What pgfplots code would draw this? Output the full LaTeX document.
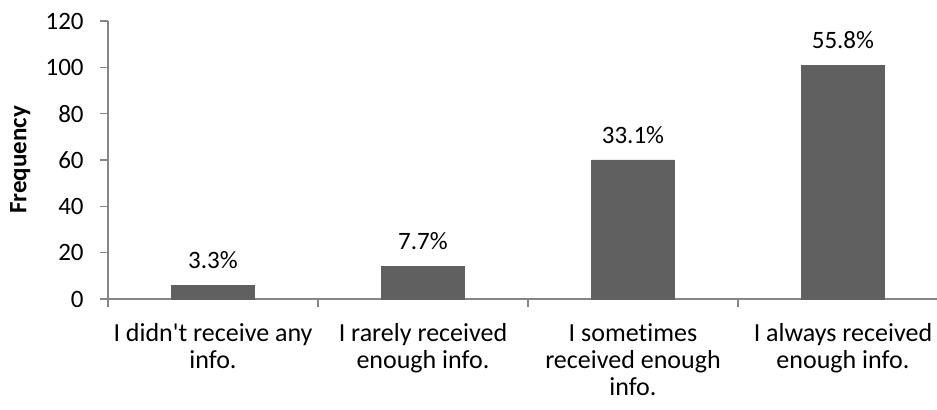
\documentclass[border=0pt]{standalone}
\usepackage{fontspec}
\setmainfont[Ligatures={NoCommon}]{Carlito}
\usepackage{pgfplots}
\pgfplotsset{compat=1.18}
\definecolor{barcol}{RGB}{96,96,96}
\definecolor{axgray}{RGB}{134,134,134}
\begin{document}
\begin{tikzpicture}
\path[use as bounding box] (-54pt,-55.5pt) rectangle (414.5pt,149.5pt);
\begin{axis}[
  at={(0,0)}, anchor=south west,
  scale only axis, width=414.5pt, height=139pt,
  xmin=-0.5, xmax=3.448, ymin=0, ymax=120,
  axis x line*=bottom, axis y line*=left,
  axis line style={draw=axgray, line width=0.6pt, -},
  font=\fontsize{12.5pt}{15pt}\selectfont,
  /pgf/number format/assume math mode=true,
  ytick={0,20,...,120},
  tick align=outside,
  major tick length=4pt,
  tick style={draw=axgray, line width=0.6pt},
  yticklabel style={anchor=east, inner sep=0pt, xshift=-8pt},
  xtick={-0.5,0.5,1.5,2.5},
  xticklabels={},
  extra x ticks={0,1,2,3},
  extra x tick labels={I didn\textquotesingle t receive any\\info., I rarely received\\enough info., I sometimes\\received enough\\info., I always received\\enough info.},
  extra x tick style={major tick length=0pt, xticklabel style={align=center, anchor=north, inner sep=0pt, yshift=-12pt, font=\fontsize{13pt}{13.5pt}\selectfont}},
  ylabel={\textbf{Frequency}},
  ylabel style={at={(axis description cs:-0.106,0.5)}, anchor=center},
  clip=false,
]
\addplot[ybar, fill=barcol, draw=barcol, bar width=0.395,
  nodes near coords, point meta=explicit symbolic,
  nodes near coords style={anchor=south, inner sep=0pt, yshift=8pt, text=black}]
  coordinates {(0,6) [3.3\%] (1,14) [7.7\%] (2,60) [33.1\%] (3,101) [55.8\%]};
\end{axis}
\end{tikzpicture}
\end{document}
